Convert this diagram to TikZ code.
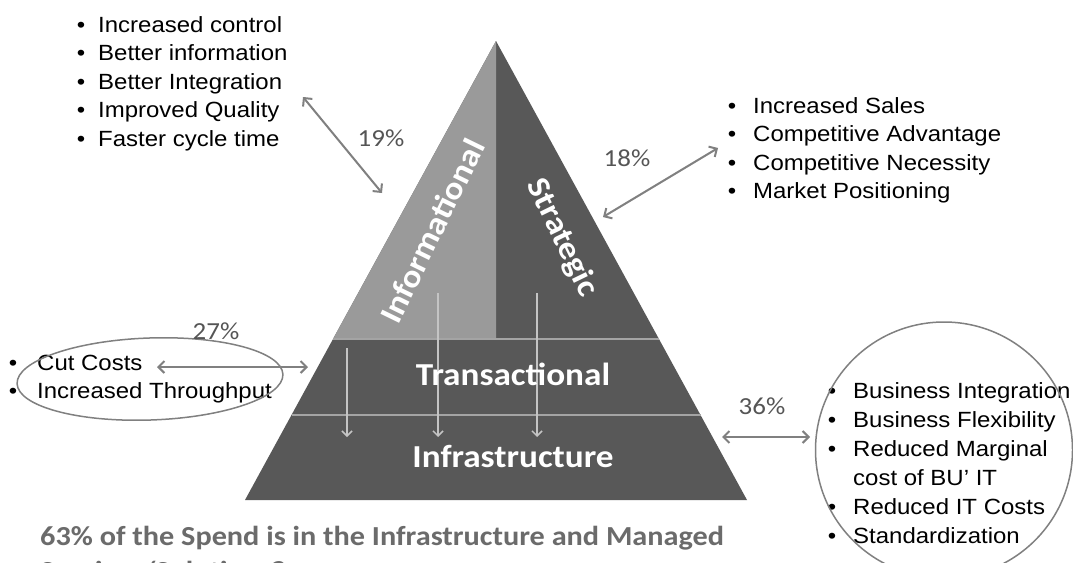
\documentclass[tikz,border=0pt]{standalone}
\usepackage{fontspec}
\setmainfont{Liberation Sans}[FakeStretch=1.09]
\newfontfamily\calib{Carlito}[FakeStretch=1.1]
\usetikzlibrary{arrows.meta}

\definecolor{lightpy}{HTML}{9A9A9A}
\definecolor{darkpy}{HTML}{585858}
\definecolor{arrowgray}{HTML}{808080}
\definecolor{innerarrow}{HTML}{C4C4C4}
\definecolor{sepline}{HTML}{A4A4A4}
\definecolor{pctgray}{HTML}{555555}
\definecolor{capgray}{HTML}{6B6B6B}
\newcommand{\itembul}[1]{\makebox[0pt][r]{\textbullet\hspace{#1pt}}}

\begin{document}
\begin{tikzpicture}[x=1pt,y=-1pt,
  listitem/.style={anchor=base west, inner sep=0pt, font=\fontsize{22}{26}\selectfont, text=black},
  pct/.style={anchor=base, inner sep=0pt, font=\calib\fontsize{24.5}{28}\selectfont, text=pctgray},
  layerlabel/.style={inner sep=0pt, font=\calib\bfseries\fontsize{32}{36}\selectfont, text=white},
  dblarrow/.style={draw=arrowgray, line width=2pt, {Straight Barb[length=6pt,width=12pt]}-{Straight Barb[length=6pt,width=12pt]}},
  downarrow/.style={draw=innerarrow, line width=1.5pt, -{Straight Barb[length=5pt,width=10pt]}},
  ring/.style={draw=arrowgray, line width=1.5pt},
  caption/.style={anchor=base west, inner sep=0pt, font=\calib\bfseries\fontsize{27.5}{33}\selectfont, text=capgray},
]
\useasboundingbox[fill=white] (0,0) rectangle (1073,562);

% pyramid
\coordinate (apex) at (496,41);
\coordinate (bl) at (245,500);
\coordinate (br) at (747,500);
\coordinate (t1l) at (333,339);
\coordinate (t1r) at (659,339);
\coordinate (t1m) at (496,339);
\coordinate (t2l) at (291.5,415);
\coordinate (t2r) at (700.5,415);
\fill[darkpy] (apex) -- (br) -- (bl) -- cycle;
\fill[lightpy] (apex) -- (t1l) -- (t1m) -- cycle;
\draw[sepline, line width=1.2pt] (t1l) -- (t1r);
\draw[sepline, line width=1.2pt] (t2l) -- (t2r);

% inner arrows
\coordinate (d1s) at (347,348);  \coordinate (d1e) at (347,437);
\coordinate (d2s) at (438,293);  \coordinate (d2e) at (438,437);
\coordinate (d3s) at (537,293);  \coordinate (d3e) at (537,437);
\draw[downarrow] (d1s) -- (d1e);
\draw[downarrow] (d2s) -- (d2e);
\draw[downarrow] (d3s) -- (d3e);

% layer labels
\node[layerlabel, rotate=64] (info) at (432,231) {Informational};
\node[layerlabel, rotate=-64] (strat) at (562,238) {Strategic};
\node[layerlabel, anchor=base] (trans) at (513,385) {Transactional};
\node[layerlabel, anchor=base] (infra) at (513,467) {Infrastructure};

% top-left list
\node[listitem] (tl1) at (98,32) {\itembul{13}Increased control};
\node[listitem] (tl2) at (98,60.5) {\itembul{13}Better information};
\node[listitem] (tl3) at (98,89) {\itembul{13}Better Integration};
\node[listitem] (tl4) at (98,117.5) {\itembul{13}Improved Quality};
\node[listitem] (tl5) at (98,146) {\itembul{13}Faster cycle time};

% top-right list
\node[listitem] (tr1) at (753,113) {\itembul{17}Increased Sales};
\node[listitem] (tr2) at (753,141.5) {\itembul{17}Competitive Advantage};
\node[listitem] (tr3) at (753,170) {\itembul{17}Competitive Necessity};
\node[listitem] (tr4) at (753,198.5) {\itembul{17}Market Positioning};

% bottom-left list
\node[listitem] (bl1) at (37,370) {\itembul{20}Cut Costs};
\node[listitem] (bl2) at (37,398) {\itembul{20}Increased Throughput};

% bottom-right list
\node[listitem] (br1) at (853,398) {\itembul{17}Business Integration};
\node[listitem] (br2) at (853,427) {\itembul{17}Business Flexibility};
\node[listitem] (br3) at (853,456) {\itembul{17}Reduced Marginal};
\node[listitem] (br4) at (853,485) {cost of BU’ IT};
\node[listitem] (br5) at (853,514) {\itembul{17}Reduced IT Costs};
\node[listitem] (br6) at (853,543) {\itembul{17}Standardization};

% rings
\draw[ring, rotate around={2:(150,379)}] (150,379) ellipse [x radius=133pt, y radius=41pt];
\draw[ring] (944,450) ellipse [x radius=128.5pt, y radius=128pt];

% percentages
\node[pct] (p19) at (381,146) {19\%};
\node[pct] (p18) at (627,166) {18\%};
\node[pct] (p27) at (216,339) {27\%};
\node[pct] (p36) at (762,414) {36\%};

% double arrows
\coordinate (a19s) at (303,97);  \coordinate (a19e) at (382,193);
\coordinate (a18s) at (603,217); \coordinate (a18e) at (718,148);
\coordinate (a27s) at (157,367); \coordinate (a27e) at (308,367);
\coordinate (a36s) at (722,437); \coordinate (a36e) at (810,437);
\draw[dblarrow] (a19s) -- (a19e);
\draw[dblarrow] (a18s) -- (a18e);
\draw[dblarrow] (a27s) -- (a27e);
\draw[dblarrow] (a36s) -- (a36e);

% caption
\node[caption] (cap1) at (40,545) {63\% of the Spend is in the Infrastructure and Managed};
\begin{scope}
\clip (0,0) rectangle (1073,562);
\node[caption] (cap2) at (40,580) {Services/Solutions?};
\end{scope}
\end{tikzpicture}
\end{document}
